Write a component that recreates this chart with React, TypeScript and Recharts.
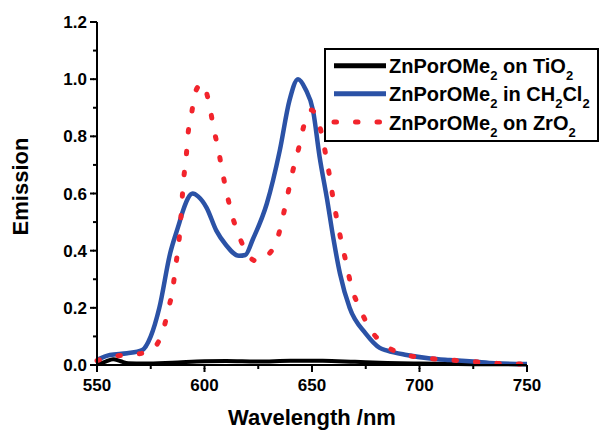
import React from 'react';
import { LineChart, Line, XAxis, YAxis, Legend, Label } from 'recharts';

const FONT = '"Liberation Sans", Arial, Helvetica, sans-serif';

// axes
const xTicks = [550, 575, 600, 625, 650, 675, 700, 725, 750];
const yTicks = [0, 0.1, 0.2, 0.3, 0.4, 0.5, 0.6, 0.7, 0.8, 0.9, 1.0, 1.1, 1.2];

// ZnPorOMe2 on TiO2
const tiWl = [550, 554, 557.5, 561, 564.5, 572, 585, 600, 610, 625, 640, 655, 670, 685, 700, 725, 750];
const tiEm = [0.002, 0.012, 0.02, 0.013, 0.006, 0.005, 0.008, 0.013, 0.014, 0.012, 0.015, 0.015, 0.011, 0.007, 0.005, 0.003, 0.002];

// ZnPorOMe2 in CH2Cl2
const dcmWl = [550, 556, 564, 571, 575, 579, 584, 588, 590, 594.5, 597, 601, 605.5, 610, 616, 619, 622.5, 629, 635, 639.5, 643.5, 647, 650.5, 653.5, 657, 660, 663, 667.5, 675, 681.5, 685, 694, 705, 714, 725, 735, 750];
const dcmEm = [0.018, 0.035, 0.041, 0.052, 0.1, 0.2, 0.39, 0.49, 0.54, 0.6, 0.59, 0.55, 0.47, 0.42, 0.382, 0.385, 0.44, 0.565, 0.75, 0.925, 1.0, 0.965, 0.89, 0.73, 0.58, 0.44, 0.32, 0.2, 0.11, 0.06, 0.05, 0.035, 0.023, 0.0175, 0.012, 0.006, 0.0035];

// ZnPorOMe2 on ZrO2
const zrWl = [550, 557, 564, 574, 580.5, 583, 585.3, 586.5, 588.4, 590.3, 591.5, 592.3, 594, 595.7, 599, 602.4, 604.2, 606.4, 608.3, 610.4, 612.8, 616.3, 621.3, 625, 629, 634.2, 636.8, 639, 641.2, 643.8, 646.1, 649.5, 651.5, 654.4, 656.4, 658.2, 659.8, 661.6, 663.7, 666, 668.3, 671.9, 676.9, 684.6, 694, 705, 714, 725, 735, 750];
const zrEm = [0.015, 0.03, 0.035, 0.046, 0.115, 0.19, 0.27, 0.34, 0.455, 0.65, 0.73, 0.805, 0.88, 0.955, 0.985, 0.905, 0.83, 0.755, 0.677, 0.6, 0.525, 0.447, 0.375, 0.362, 0.38, 0.449, 0.53, 0.607, 0.683, 0.758, 0.834, 0.892, 0.88, 0.811, 0.735, 0.66, 0.583, 0.508, 0.43, 0.354, 0.274, 0.204, 0.128, 0.066, 0.035, 0.023, 0.0175, 0.012, 0.006, 0.0035];

const BLUE = '#2b52a6';
const RED = '#f2242c';
const DOTS = '2.5 19';
const MINOR = 4; // built-in tick length
const MAJOR = 7;

const toPoints = (xs: number[], ys: number[]) => xs.map((x, i) => ({ x, y: ys[i] }));

const series = [
  { name: 'ZnPorOMe_2 on TiO_2', data: toPoints(tiWl, tiEm), color: '#000', width: 4, dash: undefined as string | undefined },
  { name: 'ZnPorOMe_2 in CH_2Cl_2', data: toPoints(dcmWl, dcmEm), color: BLUE, width: 4.5, dash: undefined as string | undefined },
  { name: 'ZnPorOMe_2 on ZrO_2', data: toPoints(zrWl, zrEm), color: RED, width: 5, dash: DOTS },
];

// "_2" -> subscript 2
function SubText({ text, x, y }: { text: string; x: number; y: number }) {
  const parts = text.split(/(_\d)/).filter(Boolean);
  let down = false;
  return (
    <text x={x} y={y} fontFamily={FONT} fontWeight="bold" fontSize={20} fill="#000">
      {parts.map((p, i) => {
        if (p.startsWith('_')) {
          const el = <tspan key={i} fontSize={13} dy={down ? 0 : 7}>{p.slice(1)}</tspan>;
          down = true;
          return el;
        }
        const el = <tspan key={i} dy={down ? -7 : 0}>{p}</tspan>;
        down = false;
        return el;
      })}
    </text>
  );
}

function LegendBox() {
  const rows = [17.7, 45.7, 74];
  return (
    <svg width={276} height={95} style={{ display: 'block' }}>
      <rect x={1} y={1} width={273} height={92} fill="#fff" stroke="#000" strokeWidth={2} />
      {series.map((s, i) => (
        <g key={s.name}>
          <line x1={10} x2={62} y1={rows[i]} y2={rows[i]} stroke={s.color} strokeWidth={5}
            strokeDasharray={s.dash} strokeLinecap={s.dash ? 'round' : 'butt'} />
          <SubText text={s.name} x={65} y={rows[i] + 7.5} />
        </g>
      ))}
    </svg>
  );
}

// major ticks: extend the built-in tick line and add the label
const renderXTick = (props: any) => {
  const v = Number(props.payload.value);
  if (v % 50 !== 0) return <g />;
  const x = Number(props.x);
  const y = Number(props.y); // axis + MINOR
  return (
    <g>
      <line x1={x} x2={x} y1={y - 1} y2={y + MAJOR - MINOR} stroke="#000" strokeWidth={2} />
      <text x={x} y={y + 26 - MINOR} textAnchor="middle" fontFamily={FONT} fontWeight="bold" fontSize={17} fill="#000">
        {v}
      </text>
    </g>
  );
};

const renderYTick = (props: any) => {
  const v = Number(props.payload.value);
  if (Math.round(v * 10) % 2 !== 0) return <g />;
  const x = Number(props.x); // axis - MINOR
  const y = Number(props.y);
  return (
    <g>
      <line x1={x - (MAJOR - MINOR)} x2={x + 1} y1={y} y2={y} stroke="#000" strokeWidth={2} />
      <text x={x - 10 + MINOR} y={y + 6} textAnchor="end" fontFamily={FONT} fontWeight="bold" fontSize={17} fill="#000">
        {v.toFixed(1)}
      </text>
    </g>
  );
};

export default function App() {
  return (
    <div style={{ position: 'absolute', left: 0, top: 0, width: 604, height: 431, background: '#fff' }}>
      <LineChart width={604} height={431} margin={{ top: 22, right: 77, bottom: 16, left: 37 }}>
        <XAxis
          type="number"
          dataKey="x"
          domain={[550, 750]}
          ticks={xTicks}
          interval={0}
          height={50}
          tickSize={MINOR}
          tickMargin={0}
          tickLine={{ stroke: '#000', strokeWidth: 2 }}
          tick={renderXTick}
          axisLine={{ stroke: '#000', strokeWidth: 2 }}
        >
          <Label
            content={(p: any) => (
              <text x={p.viewBox.x + p.viewBox.width / 2} y={p.viewBox.y + 60} textAnchor="middle"
                fontFamily={FONT} fontWeight="bold" fontSize={22} fill="#000">
                Wavelength /nm
              </text>
            )}
          />
        </XAxis>
        <YAxis
          type="number"
          dataKey="y"
          domain={[0, 1.2]}
          ticks={yTicks}
          interval={0}
          width={60}
          tickSize={MINOR}
          tickMargin={0}
          tickLine={{ stroke: '#000', strokeWidth: 2 }}
          tick={renderYTick}
          axisLine={{ stroke: '#000', strokeWidth: 2 }}
        >
          <Label
            content={(p: any) => {
              const cx = 27.5;
              const cy = p.viewBox.y + p.viewBox.height / 2 - 7;
              return (
                <text x={cx} y={cy} transform={`rotate(-90 ${cx} ${cy})`} textAnchor="middle"
                  fontFamily={FONT} fontWeight="bold" fontSize={22} fill="#000">
                  Emission
                </text>
              );
            }}
          />
        </YAxis>
        {series.map((s) => (
          <Line
            key={s.name}
            data={s.data}
            dataKey="y"
            type="monotone"
            stroke={s.color}
            strokeWidth={s.width}
            strokeDasharray={s.dash}
            strokeLinecap={s.dash ? 'round' : 'butt'}
            dot={false}
            activeDot={false}
            isAnimationActive={false}
          />
        ))}
        <Legend
          layout="vertical"
          align="center"
          verticalAlign="middle"
          wrapperStyle={{ left: 324, top: 48, width: 276, height: 95 }}
          content={() => <LegendBox />}
        />
      </LineChart>
    </div>
  );
}
